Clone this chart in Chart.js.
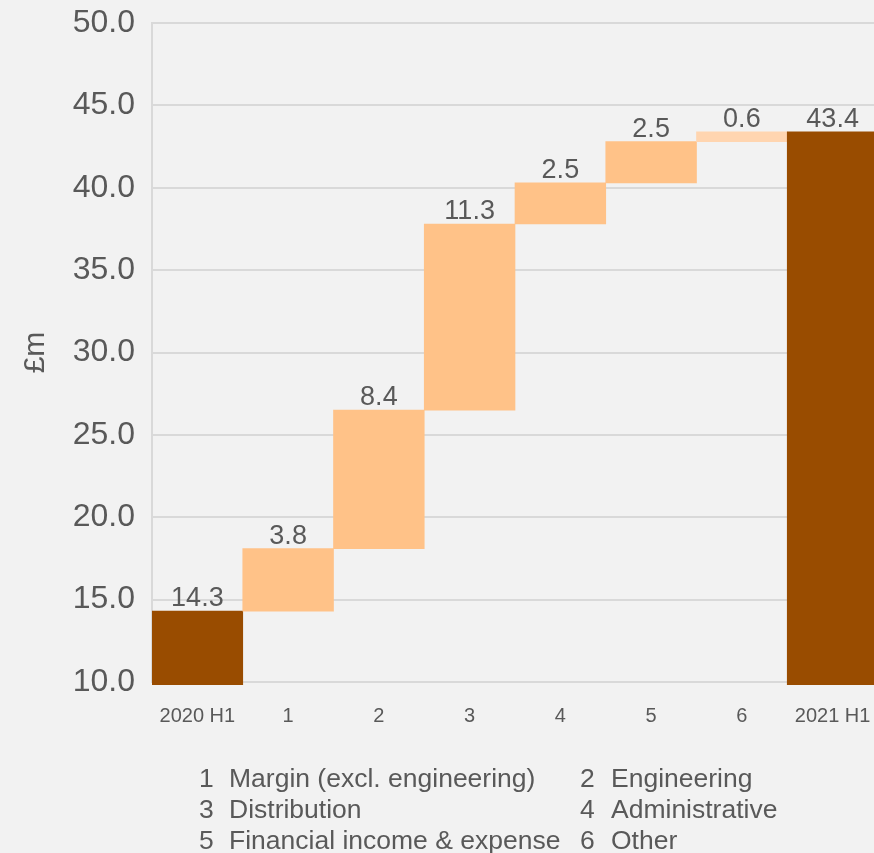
<!DOCTYPE html>
<html>
<head>
<meta charset="utf-8">
<title>Operating profit bridge</title>
<script src="https://cdn.jsdelivr.net/npm/chart.js@4/dist/chart.umd.min.js"></script>
<style>
  html, body { margin: 0; padding: 0; background: #f2f2f2; overflow: hidden; width: 874px; height: 853px; }
  #wrap { position: absolute; left: 0; top: 0; width: 878px; height: 853px; }
</style>
</head>
<body>
<div id="wrap"><canvas id="bridge" width="878" height="853"></canvas></div>
<script>
// Bridge from 2020 H1 to 2021 H1 (£m)
const categories = ['2020 H1', '1', '2', '3', '4', '5', '6', '2021 H1'];
const openingValue = 14.3;
const bridgeSteps = [3.8, 8.4, 11.3, 2.5, 2.5, 0.6];
const closingValue = 43.4;

// Y axis range and tick step
const yMin = 10;
const yMax = 50;
const yStep = 5;

// Key to the numbered bridge steps
const legendKeys = ['1', '2', '3', '4', '5', '6'];
const legendNames = [
  'Margin (excl. engineering)', 'Engineering',
  'Distribution', 'Administrative',
  'Financial income & expense', 'Other'
];

const FONT = '"Liberation Sans", Arial, sans-serif';
const TEXT = '#595959';
const GRID = '#d9d9d9';
const TOTAL_COLOR = '#994c00';
const STEP_COLOR = '#ffc288';
const SMALL_STEP_COLOR = '#ffd5b0';

// Floating ranges: totals rise from zero, each step starts where the previous ended
const ranges = [[0, openingValue]];
let running = openingValue;
bridgeSteps.forEach(d => {
  ranges.push([running, running + d]);
  running += d;
});
ranges.push([0, closingValue]);

const valueLabels = [openingValue, ...bridgeSteps, closingValue];

const barColors = categories.map((c, i) => {
  if (i === 0 || i === categories.length - 1) return TOTAL_COLOR;
  if (i === categories.length - 2) return SMALL_STEP_COLOR;
  return STEP_COLOR;
});

// Value printed above each bar
const barValueLabels = {
  id: 'barValueLabels',
  afterDatasetsDraw(chart) {
    const ctx = chart.ctx;
    const meta = chart.getDatasetMeta(0);
    ctx.save();
    ctx.font = '27px ' + FONT;
    ctx.fillStyle = TEXT;
    ctx.textAlign = 'center';
    ctx.textBaseline = 'alphabetic';
    meta.data.forEach((bar, i) => {
      const top = Math.min(bar.y, bar.base);
      ctx.fillText(valueLabels[i].toFixed(1), bar.x, top - 5);
    });
    ctx.restore();
  }
};

// Numbered key below the axis, two columns
const stepKey = {
  id: 'stepKey',
  afterDraw(chart) {
    const ctx = chart.ctx;
    ctx.save();
    ctx.font = '26.5px ' + FONT;
    ctx.fillStyle = TEXT;
    ctx.textAlign = 'left';
    ctx.textBaseline = 'alphabetic';
    const keyX = [199, 580];
    const nameX = [229, 611];
    legendKeys.forEach((k, i) => {
      const col = i % 2;
      const row = Math.floor(i / 2);
      const y = 787 + row * 31;
      ctx.fillText(k, keyX[col], y);
      ctx.fillText(legendNames[i], nameX[col], y);
    });
    ctx.restore();
  }
};

new Chart(document.getElementById('bridge'), {
  type: 'bar',
  data: {
    labels: categories,
    datasets: [{
      data: ranges,
      backgroundColor: barColors,
      borderWidth: 0,
      barPercentage: 1,
      categoryPercentage: 1,
      clip: { left: 0, top: 0, right: 0, bottom: 3 }
    }]
  },
  options: {
    responsive: false,
    animation: false,
    layout: { padding: { top: 23, left: 0, right: 0, bottom: 0 } },
    plugins: {
      legend: { display: false },
      tooltip: { enabled: false }
    },
    scales: {
      x: {
        z: 1,
        grid: { display: false },
        border: { display: true, color: GRID, width: 2 },
        ticks: {
          color: TEXT,
          font: { family: FONT, size: 20 },
          padding: 14,
          maxRotation: 0,
          autoSkip: false
        },
        afterFit(scale) {
          scale.height = 171;
          scale.paddingLeft = 0;
          scale.paddingRight = 0;
        }
      },
      y: {
        min: yMin,
        max: yMax,
        grid: { color: GRID, lineWidth: 2, drawTicks: false },
        border: { display: true, color: GRID, width: 2 },
        ticks: {
          stepSize: yStep,
          color: TEXT,
          font: { family: FONT, size: 32 },
          padding: 17,
          callback: v => Number(v).toFixed(1)
        },
        title: {
          display: true,
          text: '£m',
          color: TEXT,
          font: { family: FONT, size: 30 },
          padding: { top: 18, bottom: 0 }
        },
        afterFit(scale) {
          scale.width = 152;
          scale.paddingTop = 0;
          scale.paddingBottom = 0;
        }
      }
    }
  },
  plugins: [barValueLabels, stepKey]
});
</script>
</body>
</html>
